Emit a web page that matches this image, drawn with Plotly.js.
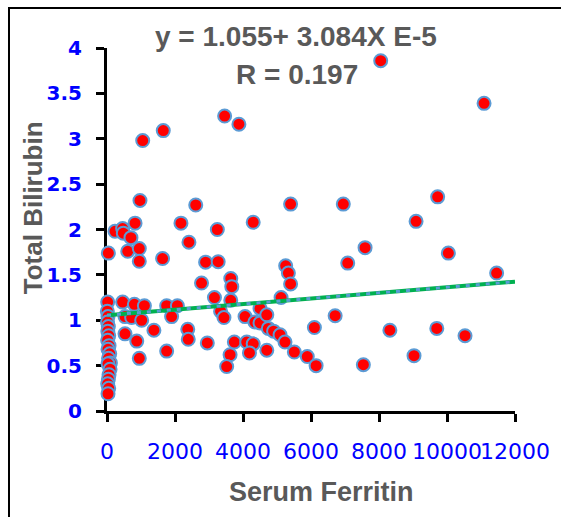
<!DOCTYPE html>
<html>
<head>
<meta charset="utf-8">
<script src="https://cdn.plot.ly/plotly-3.0.1.min.js"></script>
<style>
  html, body { margin: 0; padding: 0; background: #ffffff; }
  #chart { width: 561px; height: 517px; }
</style>
</head>
<body>
<div id="chart"></div>
<script>
// Serum ferritin vs. total bilirubin, one point per patient
const ferritin = [
  20, 10, 30, 15, 40, 25, 50, 20, 60, 30, 80, 45, 100, 30, 90, 60, 40, 20, 50, 30,
  40,
  235, 460, 480, 705, 825, 970, 1050, 1655,
  610, 950, 950, 1635, 2175, 2410, 2610,
  2780, 2900, 3270, 3245, 3460, 3880, 4300, 5400,
  6950, 8050, 9090, 9725, 7590, 7080, 10040, 11090, 11460,
  3640, 3670, 3640, 3160, 3340, 3440,
  5255, 5335, 5400, 5120, 4500, 4060, 4350, 4500, 4700, 4745, 4900, 5090, 5235, 5510, 5890, 6150, 6100, 6710, 8320, 7540, 9030, 9700, 10530,
  2950, 3745, 3620, 3520, 4110, 4300, 4190, 4700,
  460, 805, 1100, 1755, 2070, 530, 725, 1020, 1900, 1380, 2375, 2390, 530, 875, 950, 1755
];
const bilirubin = [
  1.20, 1.10, 1.04, 0.98, 0.93, 0.88, 0.83, 0.78, 0.72, 0.68, 0.63, 0.58, 0.53, 0.52, 0.46, 0.40, 0.35, 0.30, 0.25, 0.19,
  1.74,
  1.98, 2.01, 1.96, 1.91, 2.07, 2.32, 2.98, 3.09,
  1.76, 1.79, 1.65, 1.68, 2.07, 1.86, 2.27,
  1.41, 1.64, 1.645, 2.00, 3.25, 3.16, 2.08, 2.28,
  2.28, 3.86, 2.09, 2.36, 1.80, 1.63, 1.74, 3.39, 1.52,
  1.46, 1.37, 1.22, 1.25, 1.10, 1.03,
  1.60, 1.52, 1.40, 1.25, 1.13, 1.04, 0.98, 0.97, 1.06, 0.91, 0.88, 0.84, 0.76, 0.65, 0.60, 0.50, 0.92, 1.05, 0.89, 0.51, 0.61, 0.91, 0.83,
  0.75, 0.76, 0.62, 0.49, 0.76, 0.74, 0.64, 0.67,
  1.20, 1.175, 1.16, 1.16, 1.16, 1.04, 1.03, 1.00, 1.04, 0.89, 0.90, 0.79, 0.85, 0.77, 0.58, 0.66
];

// Least-squares fit reported on the chart
const intercept = 1.055;
const slope = 3.084e-5;
const fitX = [0, 12000];
const fitY = fitX.map(v => intercept + slope * v);

const xTicks = [0, 2000, 4000, 6000, 8000, 10000, 12000];
const yTicks = [0, 0.5, 1, 1.5, 2, 2.5, 3, 3.5, 4];

const grey = '#595959';
const blue = '#0000FF';

const traces = [
  {
    type: 'scatter', mode: 'markers',
    x: ferritin, y: bilirubin,
    cliponaxis: false,
    marker: { color: '#FF0000', size: 13, line: { color: '#5B9BD5', width: 2 } },
    hoverinfo: 'x+y'
  },
  // trend line: green stroke with a blue dotted overlay
  {
    type: 'scatter', mode: 'lines',
    x: fitX, y: fitY, cliponaxis: false,
    line: { color: '#00B050', width: 4 },
    hoverinfo: 'skip'
  },
  {
    type: 'scatter', mode: 'lines',
    x: fitX, y: fitY, cliponaxis: false,
    line: { color: '#5B9BD5', width: 3, dash: '4px,6px' },
    hoverinfo: 'skip'
  }
];

const layout = {
  width: 561, height: 517,
  margin: { l: 107, r: 46, t: 48, b: 106 },
  paper_bgcolor: '#ffffff', plot_bgcolor: '#ffffff',
  showlegend: false,
  xaxis: {
    range: [0, 12000],
    tickmode: 'array', tickvals: xTicks, ticktext: xTicks.map(String),
    tickangle: 0,
    showgrid: false, zeroline: false,
    showline: true, linecolor: '#000000', linewidth: 3,
    ticks: 'outside', ticklen: 8, tickwidth: 3, tickcolor: '#000000',
    ticklabelstandoff: 11,
    tickfont: { family: 'DejaVu Sans', size: 22, color: blue },
    layer: 'below traces',
    fixedrange: true
  },
  yaxis: {
    range: [0, 4],
    tickmode: 'array', tickvals: yTicks, ticktext: yTicks.map(String),
    showgrid: false, zeroline: false,
    showline: true, linecolor: '#000000', linewidth: 3,
    ticks: 'outside', ticklen: 8, tickwidth: 3, tickcolor: '#000000',
    ticklabelstandoff: 10,
    tickfont: { family: 'DejaVu Sans', size: 20, color: blue, weight: 'bold' },
    layer: 'below traces',
    fixedrange: true
  },
  annotations: [
    {
      xref: 'paper', yref: 'paper', x: 0.463, y: 1.033,
      xanchor: 'center', yanchor: 'middle', showarrow: false,
      text: 'y = 1.055+ 3.084X E-5',
      font: { family: 'Liberation Sans', size: 28, color: grey, weight: 'bold' }
    },
    {
      xref: 'paper', yref: 'paper', x: 0.465, y: 0.927,
      xanchor: 'center', yanchor: 'middle', showarrow: false,
      text: 'R = 0.197',
      font: { family: 'Liberation Sans', size: 28, color: grey, weight: 'bold' }
    },
    {
      xref: 'paper', yref: 'paper', x: 0.525, y: -0.223,
      xanchor: 'center', yanchor: 'middle', showarrow: false,
      text: 'Serum Ferritin',
      font: { family: 'Liberation Sans', size: 27, color: grey, weight: 'bold' }
    },
    {
      xref: 'paper', yref: 'paper', x: -0.181, y: 0.559,
      xanchor: 'center', yanchor: 'middle', showarrow: false, textangle: -90,
      text: 'Total Bilirubin',
      font: { family: 'Liberation Sans', size: 26, color: grey, weight: 'bold' }
    }
  ],
  shapes: [
    {
      type: 'rect', xref: 'paper', yref: 'paper', layer: 'above',
      x0: -0.2402, x1: 1.2, y0: -0.35, y1: 1.1102,
      line: { color: '#000000', width: 2 }, fillcolor: 'rgba(0,0,0,0)'
    }
  ]
};

Plotly.newPlot('chart', traces, layout, { staticPlot: true, displayModeBar: false });
</script>
</body>
</html>
